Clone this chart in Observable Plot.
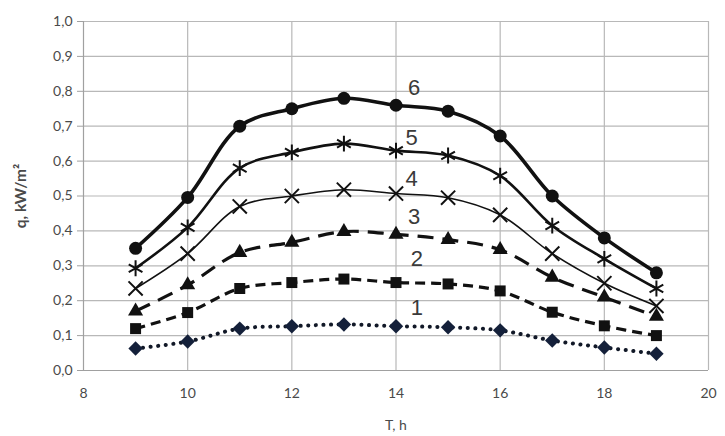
<!DOCTYPE html>
<html>
<head>
<meta charset="utf-8">
<script src="https://cdn.jsdelivr.net/npm/d3@7"></script>
<script src="https://cdn.jsdelivr.net/npm/@observablehq/plot@0.6"></script>
<style>
  html, body { margin: 0; padding: 0; background: #fff; }
  #chart { width: 725px; height: 436px; overflow: hidden; }
</style>
</head>
<body>
<div id="chart"></div>
<script>
const hours = [9, 10, 11, 12, 13, 14, 15, 16, 17, 18, 19];
const s1 = [0.063, 0.083, 0.12, 0.127, 0.132, 0.127, 0.124, 0.115, 0.086, 0.066, 0.048];
const s2 = [0.12, 0.166, 0.235, 0.252, 0.262, 0.252, 0.248, 0.228, 0.167, 0.128, 0.10];
const s3 = [0.17, 0.245, 0.338, 0.367, 0.398, 0.39, 0.375, 0.346, 0.267, 0.21, 0.155];
const s4 = [0.235, 0.335, 0.47, 0.50, 0.518, 0.507, 0.495, 0.446, 0.335, 0.25, 0.185];
const s5 = [0.293, 0.41, 0.58, 0.625, 0.65, 0.63, 0.616, 0.558, 0.415, 0.32, 0.235];
const s6 = [0.35, 0.496, 0.70, 0.75, 0.78, 0.76, 0.743, 0.672, 0.50, 0.38, 0.28];
const seriesNames = ["1", "2", "3", "4", "5", "6"];
const labelX = [14.4, 14.4, 14.35, 14.3, 14.3, 14.35];
const labelY = [0.18, 0.32, 0.44, 0.55, 0.665, 0.81];
const yTicks = [0, 0.1, 0.2, 0.3, 0.4, 0.5, 0.6, 0.7, 0.8, 0.9, 1.0];
const xTicks = [8, 10, 12, 14, 16, 18, 20];
const xGrid = [10, 12, 14, 16, 18, 20];

const allSeries = [s1, s2, s3, s4, s5, s6];
const rows = s => hours.map((h, i) => ({h, q: s[i]}));

const styles = [
  {stroke: "#111827", width: 4, dash: "0.1,7.5", cap: "round", symbol: "diamond2", fill: "#14203a", r: 6.5, sym: "fill"},
  {stroke: "#111", width: 3.2, dash: "10,6", cap: "butt", symbol: "square", fill: "#111", r: 6.2, sym: "fill"},
  {stroke: "#111", width: 3.2, dash: "16,9", cap: "butt", symbol: "triangle", fill: "#111", r: 5.6, sym: "fill"},
  {stroke: "#111", width: 1.6, dash: null, cap: "butt", symbol: "times", fill: "none", r: 6.5, sym: "stroke"},
  {stroke: "#111", width: 2.6, dash: null, cap: "butt", symbol: "asterisk", fill: "none", r: 7.5, sym: "stroke"},
  {stroke: "#111", width: 3.6, dash: null, cap: "butt", symbol: "circle", fill: "#111", r: 6.5, sym: "fill"}
];

const marks = [
  Plot.gridY(yTicks.slice(1), {stroke: "#b8b8b8", strokeOpacity: 1, strokeWidth: 1.2}),
  Plot.gridX(xGrid, {stroke: "#b8b8b8", strokeOpacity: 1, strokeWidth: 1.2}),
  Plot.ruleX([8], {stroke: "#a0a0a0", strokeWidth: 1.2}),
  Plot.ruleY([0], {stroke: "#a0a0a0", strokeWidth: 1.2}),
  Plot.axisY({
    ticks: yTicks,
    tickFormat: d => d.toFixed(1).replace(".", ","),
    tickSize: 6, tickPadding: 5, stroke: "#a0a0a0", fill: "#4a4a4a",
    fontSize: 14, label: null
  }),
  Plot.axisX({
    ticks: xTicks, tickFormat: d => String(d),
    tickSize: 0, tickPadding: 18, fill: "#4a4a4a", fontSize: 14, label: null
  })
];

allSeries.forEach((s, k) => {
  const st = styles[k];
  marks.push(Plot.line(rows(s), {
    x: "h", y: "q", curve: "catmull-rom",
    stroke: st.stroke, strokeWidth: st.width,
    strokeDasharray: st.dash, strokeLinecap: st.cap
  }));
  marks.push(Plot.dot(rows(s), st.sym === "fill" ? {
    x: "h", y: "q", symbol: st.symbol, r: st.r, fill: st.fill, stroke: "none"
  } : {
    x: "h", y: "q", symbol: st.symbol, r: st.r, fill: "none", stroke: st.stroke, strokeWidth: 2
  }));
});

marks.push(Plot.text(seriesNames, {
  x: (d, i) => labelX[i], y: (d, i) => labelY[i], text: d => d,
  fontSize: 22, fill: "#3a3a3a", fontFamily: "Liberation Sans, Arial, sans-serif"
}));

marks.push(Plot.text(["q, kW/m²"], {
  frameAnchor: "left", textAnchor: "middle", rotate: -90, dx: -62, text: d => d,
  fontSize: 15.5, fontWeight: "bold", fill: "#4a4a4a"
}));
marks.push(Plot.text(["T, h"], {
  frameAnchor: "bottom", dy: 50, text: d => d, lineAnchor: "top",
  fontSize: 14, fill: "#4a4a4a"
}));

const chart = Plot.plot({
  width: 725, height: 436,
  marginLeft: 83, marginRight: 17, marginTop: 21, marginBottom: 66,
  x: {domain: [8, 20]},
  y: {domain: [0, 1]},
  style: {background: "#fff", fontFamily: "Lato, 'Open Sans', sans-serif", overflow: "hidden"},
  marks
});
document.getElementById("chart").appendChild(chart);
</script>
</body>
</html>
